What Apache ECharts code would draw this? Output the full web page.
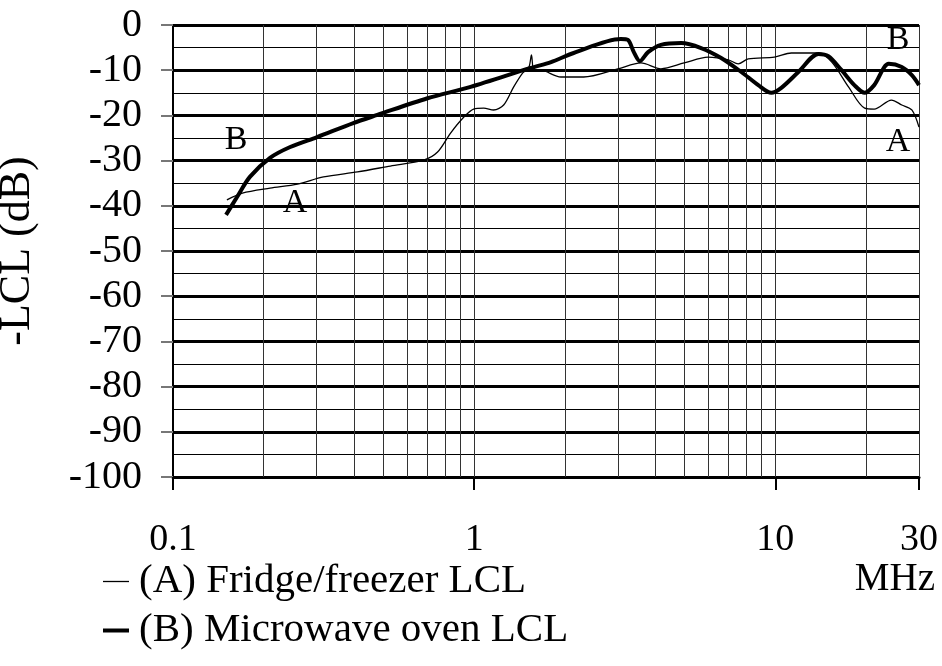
<!DOCTYPE html>
<html>
<head>
<meta charset="utf-8">
<script src="https://cdn.jsdelivr.net/npm/echarts@6/dist/echarts.min.js"></script>
<style>html,body{margin:0;padding:0;background:#fff}#c{width:942px;height:666px}</style>
</head>
<body>
<div id="c"></div>
<script>
// Frequencies (MHz) and -LCL values (dB)
const freqA = [0.151,0.170,0.210,0.259,0.316,0.410,0.527,0.679,0.756,0.835,0.923,0.996,1.076,1.161,1.253,1.353,1.45,1.52,1.55,1.58,1.66,1.94,2.31,3.00,3.58,4.17,4.98,5.98,6.98,7.53,8.13,9.93,11.3,13.9,15.4,17.5,19.8,21.3,24.3,26.3,28.4,30];
const lclA  = [-38.7,-37.2,-36.1,-35.2,-33.6,-32.5,-31.2,-29.9,-28.1,-23.9,-20.4,-18.6,-18.4,-18.8,-17.7,-13.7,-10.6,-9.3,-6.6,-10.0,-10.0,-11.5,-11.5,-9.7,-8.4,-9.7,-8.4,-7.1,-7.7,-8.6,-7.5,-7.1,-6.2,-6.2,-8.2,-13.7,-18.4,-18.6,-16.6,-17.7,-18.8,-22.6];
const freqB = [0.150,0.163,0.180,0.210,0.245,0.301,0.397,0.477,0.700,0.973,1.54,1.80,2.14,3.07,3.24,3.39,3.55,3.78,4.17,4.87,5.67,6.61,7.71,8.78,9.70,10.47,11.93,13.9,15.0,16.6,18.3,19.8,21.3,23.8,26.3,28.4,30];
const lclB  = [-42.0,-38.1,-33.6,-29.4,-27.0,-24.8,-21.7,-19.9,-16.2,-13.7,-9.5,-8.2,-6.2,-3.1,-3.3,-6.0,-8.0,-6.0,-4.4,-4.0,-5.1,-7.3,-10.4,-13.3,-15.0,-13.9,-10.4,-6.4,-6.9,-10.0,-13.3,-15.0,-13.3,-8.6,-9.3,-11.1,-13.3];
const xGridLines = [0.2,0.3,0.4,0.5,0.6,0.7,0.8,0.9,1,2,3,4,5,6,7,8,9,10,20,30];
const seriesNames = ['(A) Fridge/freezer LCL','(B) Microwave oven LCL'];
const yAxisTitle = '-LCL (dB)';
const xAxisTitle = 'MHz';
const curveTags = [['B',236,140],['A',295,203],['B',898,40],['A',898,142]];

const FONT = 'Liberation Serif';
const chart = echarts.init(document.getElementById('c'), null, {renderer:'canvas'});
const pairs = (xs, ys) => xs.map((x,i)=>[x, ys[i]]);
const widthA = 1.3, widthB = 4;

chart.setOption({
  animation:false,
  backgroundColor:'#fff',
  textStyle:{fontFamily:FONT,color:'#000'},
  grid:{left:173,right:23,top:25,bottom:189,containLabel:false,outerBoundsMode:'none'},
  xAxis:{
    type:'log', logBase:10, min:0.1, max:30,
    axisLine:{show:true,onZero:false,lineStyle:{color:'#000',width:3}},
    axisTick:{show:true,length:13,lineStyle:{color:'#000',width:2}},
    axisLabel:{fontFamily:FONT,fontSize:38,color:'#000',margin:44},
    splitLine:{show:false},
    minorTick:{show:false}
  },
  yAxis:{
    type:'value', min:-100, max:0, interval:10,
    name:yAxisTitle, nameLocation:'middle', nameRotate:90, nameGap:134,
    nameTextStyle:{fontFamily:FONT,fontSize:44,color:'#000'},
    axisLine:{show:true,lineStyle:{color:'#000',width:2}},
    axisTick:{show:true,length:12,lineStyle:{color:'#777',width:2}},
    axisLabel:{fontFamily:FONT,fontSize:40,color:'#000',margin:31},
    splitLine:{show:true,lineStyle:{color:'#000',width:3}},
    minorSplitLine:{show:true,lineStyle:{color:'#000',width:1}},
    minorTick:{show:false,splitNumber:2}
  },
  legend:{
    orient:'vertical', left:96, top:556, itemWidth:26, itemHeight:20, itemGap:8,
    data:[
      {name:seriesNames[0], lineStyle:{width:widthA, color:'#000'}},
      {name:seriesNames[1], lineStyle:{width:widthB, color:'#000'}}
    ],
    itemStyle:{opacity:0},
    textStyle:{fontFamily:FONT,fontSize:41,color:'#000',padding:[0,0,0,5]}
  },
  graphic: curveTags.map(t=>({
    type:'text', x:t[1], y:t[2], silent:true,
    style:{text:t[0], fontFamily:FONT, fontSize:34, fill:'#000', align:'center', verticalAlign:'middle'}
  })).concat([{
    type:'text', x:935, y:580, silent:true,
    style:{text:xAxisTitle, fontFamily:FONT, fontSize:39, fill:'#000', align:'right', verticalAlign:'middle'}
  }]),
  series:[
    {
      name:seriesNames[0], type:'line', data:pairs(freqA,lclA), smooth:0.3,
      symbol:'none', showSymbol:false, lineStyle:{color:'#000',width:widthA}, itemStyle:{color:'#000'},
      z:5,
      markLine:{
        silent:true, symbol:'none', animation:false,
        label:{show:false},
        lineStyle:{color:'#333',width:1,type:'solid'},
        data: xGridLines.map(v=>({xAxis:v}))
      }
    },
    {
      name:seriesNames[1], type:'line', data:pairs(freqB,lclB), smooth:0.3,
      symbol:'none', showSymbol:false, lineStyle:{color:'#000',width:widthB}, itemStyle:{color:'#000'},
      z:6
    }
  ]
});
</script>
</body>
</html>
